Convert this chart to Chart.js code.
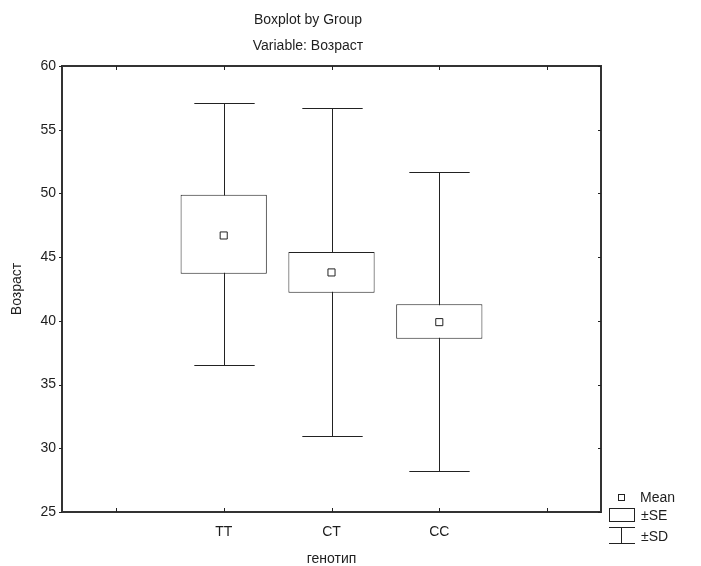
<!DOCTYPE html>
<html>
<head>
<meta charset="utf-8">
<script src="https://cdn.jsdelivr.net/npm/chart.js@4.4.1/dist/chart.umd.min.js"></script>
<style>
  html, body { margin: 0; padding: 0; background: #fff; }
  #wrap { width: 701px; height: 566px; }
</style>
</head>
<body>
<div id="wrap"><canvas id="boxChart" width="701" height="566"></canvas></div>
<script>
// --- DATA ---
const groups = ['', 'TT', 'CT', 'CC', ''];
const means  = [null, 46.7, 43.8, 39.9, null];
const seLow  = [null, 43.7, 42.2, 38.6, null];
const seHigh = [null, 49.9, 45.4, 41.3, null];
const sdLow  = [null, 36.5, 31.0, 28.2, null];
const sdHigh = [null, 57.1, 56.7, 51.7, null];
const yTicks = [25, 30, 35, 40, 45, 50, 55, 60];

const FONT = "'Liberation Sans', Arial, sans-serif";
const INK = '#222';

// whiskers (±SD) behind the boxes
const whiskerPlugin = {
    id: 'whiskers',
    beforeDatasetsDraw(chart) {
        const x = chart.scales.x, y = chart.scales.y, ctx = chart.ctx;
        const slot = x.getPixelForValue(1) - x.getPixelForValue(0);
        const half = slot * 0.28;
        ctx.save();
        ctx.strokeStyle = INK;
        ctx.lineWidth = 1;
        groups.forEach((g, i) => {
            if (sdLow[i] == null) return;
            const px = Math.round(x.getPixelForValue(i)) + 0.5;
            const top = Math.round(y.getPixelForValue(sdHigh[i])) + 0.5;
            const bot = Math.round(y.getPixelForValue(sdLow[i])) + 0.5;
            ctx.beginPath();
            ctx.moveTo(px, top); ctx.lineTo(px, bot);
            ctx.moveTo(px - half, top); ctx.lineTo(px + half, top);
            ctx.moveTo(px - half, bot); ctx.lineTo(px + half, bot);
            ctx.stroke();
        });
        ctx.restore();
    }
};

// frame, inner ticks, titles and the legend
const framePlugin = {
    id: 'frame',
    afterDraw(chart) {
        const ctx = chart.ctx, a = chart.chartArea;
        const x = chart.scales.x, y = chart.scales.y;
        ctx.save();
        ctx.strokeStyle = '#333';
        ctx.lineWidth = 2;
        ctx.strokeRect(a.left, a.top, a.right - a.left, a.bottom - a.top);

        ctx.lineWidth = 1;
        ctx.strokeStyle = INK;
        ctx.beginPath();
        groups.forEach((g, i) => {
            const px = Math.round(x.getPixelForValue(i)) + 0.5;
            ctx.moveTo(px, a.top); ctx.lineTo(px, a.top + 4);
            ctx.moveTo(px, a.bottom); ctx.lineTo(px, a.bottom - 4);
        });
        yTicks.forEach(v => {
            const py = Math.round(y.getPixelForValue(v)) + 0.5;
            ctx.moveTo(a.left - 3, py); ctx.lineTo(a.left, py);
            ctx.moveTo(a.right, py); ctx.lineTo(a.right - 3, py);
        });
        ctx.stroke();

        ctx.fillStyle = '#1e1e1e';
        ctx.font = '14px ' + FONT;
        ctx.textAlign = 'center';
        ctx.textBaseline = 'middle';
        ctx.fillText('Boxplot by Group', 308, 20);
        ctx.fillText('Variable: Возраст', 308, 46);
        ctx.fillText('генотип', (a.left + a.right) / 2, 559);

        ctx.save();
        ctx.translate(17, (a.top + a.bottom) / 2);
        ctx.rotate(-Math.PI / 2);
        ctx.fillText('Возраст', 0, 0);
        ctx.restore();

        // legend
        ctx.strokeStyle = INK;
        ctx.lineWidth = 1;
        ctx.strokeRect(618.5, 494.5, 6, 6);
        ctx.strokeRect(609.5, 508.5, 25, 13);
        ctx.beginPath();
        ctx.moveTo(609, 527.5); ctx.lineTo(635, 527.5);
        ctx.moveTo(621.5, 527.5); ctx.lineTo(621.5, 543.5);
        ctx.moveTo(609, 543.5); ctx.lineTo(635, 543.5);
        ctx.stroke();
        ctx.textAlign = 'left';
        ctx.fillText('Mean', 640, 498);
        ctx.fillText('\u00b1SE', 641, 516);
        ctx.fillText('\u00b1SD', 641, 537);
        ctx.restore();
    }
};

new Chart(document.getElementById('boxChart'), {
    data: {
        labels: groups,
        datasets: [{
            type: 'line',
            label: 'Mean',
            data: means,
            showLine: false,
            pointStyle: 'rect',
            pointRadius: 5,
            pointBackgroundColor: '#fff',
            pointBorderColor: INK,
            pointBorderWidth: 1,
            order: 1
        }, {
            type: 'bar',
            label: '\u00b1SE',
            data: groups.map((g, i) => seLow[i] == null ? null : [seLow[i], seHigh[i]]),
            backgroundColor: '#fff',
            borderColor: INK,
            borderWidth: 1,
            borderSkipped: false,
            barPercentage: 0.8,
            categoryPercentage: 1,
            order: 2
        }]
    },
    options: {
        responsive: false,
        animation: false,
        devicePixelRatio: 1,
        layout: { padding: { top: 66, right: 100, left: 0, bottom: 0 } },
        plugins: { legend: { display: false }, tooltip: { enabled: false } },
        scales: {
            x: {
                type: 'category',
                offset: true,
                grid: { display: false, drawTicks: false },
                border: { display: false },
                ticks: { color: '#1e1e1e', font: { family: FONT, size: 14 }, padding: 12, maxRotation: 0 },
                afterFit: s => { s.height = 54; }
            },
            y: {
                min: 25, max: 60,
                grid: { display: false, drawTicks: false },
                border: { display: false },
                ticks: { stepSize: 5, color: '#1e1e1e', font: { family: FONT, size: 14 }, padding: 6 },
                afterFit: s => { s.width = 62; }
            }
        }
    },
    plugins: [whiskerPlugin, framePlugin]
});
</script>
</body>
</html>
